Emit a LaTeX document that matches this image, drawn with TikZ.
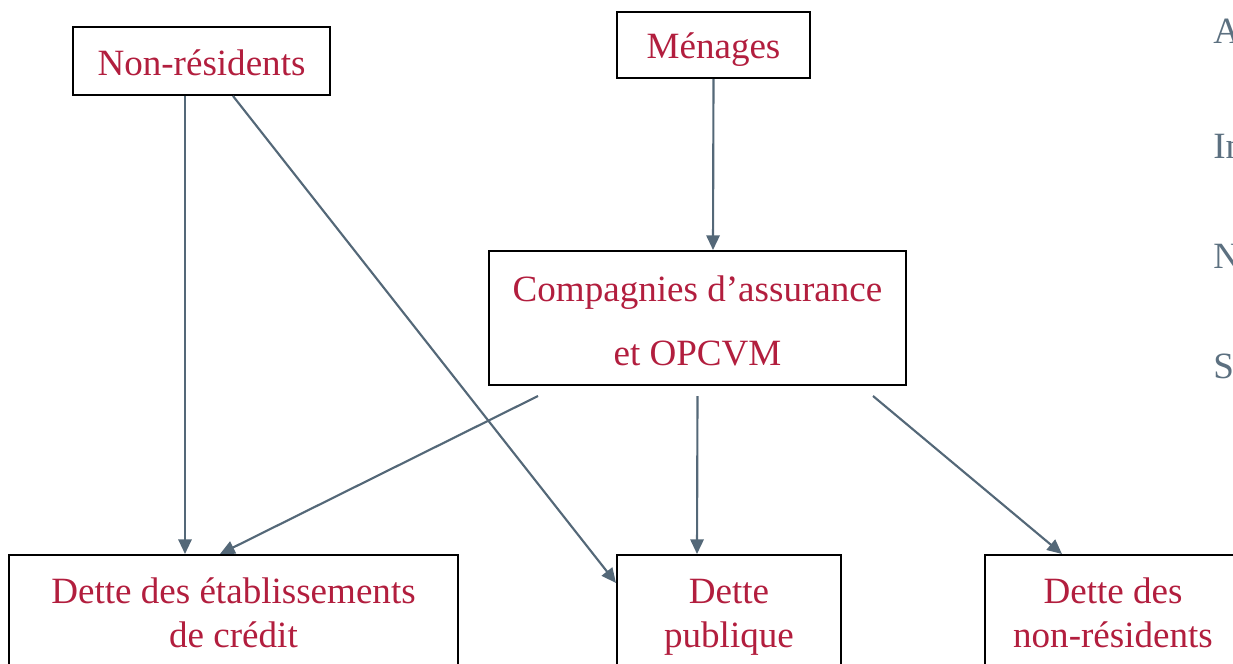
\documentclass[tikz,border=0pt]{standalone}
\usepackage{fontspec}
\setmainfont{Liberation Serif}
\usepackage{xcolor}
\usepackage{tikz}
\usetikzlibrary{arrows.meta, positioning, calc}

\definecolor{sectred}{RGB}{178,30,62}
\definecolor{flowgrey}{RGB}{84,104,120}
\definecolor{sidegrey}{RGB}{92,112,128}

\begin{document}
\begin{tikzpicture}[
  x=0.75pt, y=-0.75pt,
  sector/.style={draw, line width=1.5pt, align=center, text=sectred, inner sep=0pt,
    font=\fontsize{27.8}{33}\selectfont, text depth=0pt},
  flow/.style={flowgrey, line width=1.6pt, -{Triangle[length=11pt,width=10pt]}},
  side/.style={text=sidegrey, anchor=base west, inner sep=0pt, font=\fontsize{27.8}{33}\selectfont}
]
\useasboundingbox (0,0) rectangle (1233,664);
\clip (0,0) rectangle (1233,664);

% Sources
\node[sector, minimum width=192.75pt, minimum height=51pt, text height=21pt]
  (nonres) at (201.5,61) {Non-résidents};
\node[sector, minimum width=144.75pt, minimum height=49.5pt, text height=19.5pt]
  (menages) at (713.5,45) {Ménages};
\node[sector, minimum width=312.75pt, minimum height=100.5pt, text height=70.5pt]
  (compagnies) at (697.5,318) {Compagnies d’assurance\\[15pt]et OPCVM};

% Debts
\node[sector, minimum width=336.75pt, minimum height=87pt, text height=51pt]
  (detteetab) at (233.5,613) {Dette des établissements\\de crédit};
\node[sector, minimum width=168pt, minimum height=87pt, text height=51pt]
  (dettepub) at (729,613) {Dette\\publique};
\node[sector, minimum width=192pt, minimum height=87pt, text height=51pt]
  (dettenonres) at (1113,613) {Dette des\\non-résidents};

% Flows
\draw[flow] ($(nonres.south)+(-16.5,0)$) -- ($(detteetab.north)+(-48.5,0)$);
\draw[flow] ($(nonres.south)+(31.5,0)$) -- ($(dettepub.west)+(0,-30)$);
\draw[flow] (menages.south) -- ($(compagnies.north)+(15.5,0)$);
\draw[flow] ($(compagnies.south)+(-159.5,10)$) -- ($(detteetab.north)+(-13.5,0)$);
\draw[flow] ($(compagnies.south)+(0,10)$) -- ($(dettepub.north)+(-32,0)$);
\draw[flow] ($(compagnies.south)+(175.5,10)$) -- ($(dettenonres.north)+(-51,0)$);

% Cut-off side column
\node[side] (sidea) at (1213,43) {A};
\node[side] (sidein) at (1213,158) {In};
\node[side] (siden) at (1213,268) {N};
\node[side] (sides) at (1213,378) {S};
\end{tikzpicture}
\end{document}
